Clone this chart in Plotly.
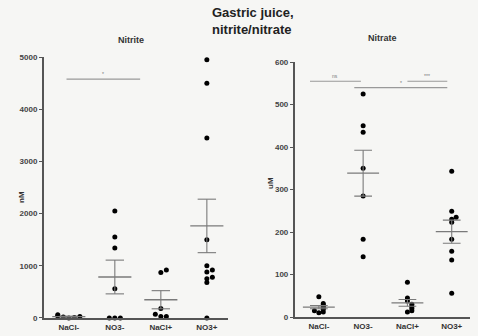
import plotly.graph_objects as go
import numpy as np

categories = ["NaCl-", "NO3-", "NaCl+", "NO3+"]

nitrite_nacl_minus = [0, 10, 20, 30, 40, 60]
nitrite_no3_minus = [2050, 1550, 1340, 560, 0, 0, 0]
nitrite_nacl_plus = [870, 920, 180, 70, 30, 30]
nitrite_no3_plus = [4950, 4500, 3450, 1500, 1000, 920, 880, 780, 750, 680, 0]

nitrate_nacl_minus = [48, 32, 28, 25, 22, 18, 15, 12, 10]
nitrate_no3_minus = [525, 450, 435, 350, 285, 183, 142]
nitrate_nacl_plus = [82, 45, 38, 30, 25, 20, 15, 12]
nitrate_no3_plus = [343, 249, 235, 230, 223, 183, 155, 134, 56]

# significance brackets: (start cat, end cat, level, label)
nitrite_sig = [(-0.05, 1.55, 4580, "*"), (2.1, 2.9, 5050, "P= 0.38")]
nitrate_sig = [(-0.2, 0.95, 555, "ns"), (0.8, 2.9, 540, "*"), (2.0, 2.9, 555, "***")]

nitrite = [nitrite_nacl_minus, nitrite_no3_minus, nitrite_nacl_plus, nitrite_no3_plus]
nitrate = [nitrate_nacl_minus, nitrate_no3_minus, nitrate_nacl_plus, nitrate_no3_plus]

fig = go.Figure()

GRAY = "#7a7a7a"
AX = "#555555"
FONT = "Liberation Sans, Arial"


def swarm(vals, tol, step):
    vals = sorted(vals)
    xs = []
    placed = []
    for v in vals:
        near = [p for p in placed if abs(p - v) < tol]
        k = len(near)
        off = 0 if k == 0 else ((k + 1) // 2) * step * (1 if k % 2 else -1)
        xs.append(off)
        placed.append(v)
    return vals, xs


def add_panel(data, xa, ya, tol, step):
    for i, vals in enumerate(data):
        v, offs = swarm(vals, tol, step)
        fig.add_trace(go.Scatter(x=[i + o for o in offs], y=v, mode="markers",
                                 marker=dict(color="black", size=5),
                                 xaxis=xa, yaxis=ya, showlegend=False, cliponaxis=False))
        m = float(np.mean(vals))
        sem = float(np.std(vals, ddof=1) / np.sqrt(len(vals)))
        fig.add_trace(go.Scatter(x=[i - 0.36, i + 0.36], y=[m, m], mode="lines",
                                 line=dict(color=GRAY, width=1.3), xaxis=xa, yaxis=ya,
                                 showlegend=False, cliponaxis=False))
        fig.add_trace(go.Scatter(x=[i - 0.2, i + 0.2, None, i - 0.2, i + 0.2, None, i, i],
                                 y=[m + sem, m + sem, None, m - sem, m - sem, None, m - sem, m + sem],
                                 mode="lines", line=dict(color=GRAY, width=1.1), xaxis=xa, yaxis=ya,
                                 showlegend=False, cliponaxis=False))


add_panel(nitrite, "x", "y", 60, 0.12)
add_panel(nitrate, "x2", "y2", 6, 0.1)

for (a, b, lvl, lab) in nitrite_sig:
    fig.add_shape(type="line", x0=a, x1=b, y0=lvl, y1=lvl, xref="x", yref="y",
                  line=dict(color="#999999", width=1.2))
    fig.add_annotation(x=(a + b) / 2, y=lvl, xref="x", yref="y", text=lab, showarrow=False,
                       yanchor="bottom", xanchor="center", font=dict(size=5, color="#777777", family=FONT))
for (a, b, lvl, lab) in nitrate_sig:
    fig.add_shape(type="line", x0=a, x1=b, y0=lvl, y1=lvl, xref="x2", yref="y2",
                  line=dict(color="#999999", width=1.2))
    fig.add_annotation(x=(a + b) / 2, y=lvl, xref="x2", yref="y2", text=lab, showarrow=False,
                       yanchor="bottom", xanchor="center", font=dict(size=5, color="#777777", family=FONT))

tickfont = dict(size=8, color="#444444", family=FONT, weight="bold")
common_x = dict(tickmode="array", tickvals=[0, 1, 2, 3], ticktext=categories,
                showline=True, linecolor=AX, linewidth=2, ticks="", showgrid=False,
                zeroline=False, automargin=False,
                tickfont=dict(size=8, color="#333333", family=FONT, weight="bold"))
common_y = dict(showline=True, linecolor=AX, linewidth=2, ticks="outside", ticklen=3, tickcolor=AX,
                showgrid=False, zeroline=False, tickfont=tickfont, automargin=False)

fig.update_layout(
    width=478, height=336,
    margin=dict(l=0, r=0, t=0, b=0, autoexpand=False),
    paper_bgcolor="#f6f6f4", plot_bgcolor="rgba(0,0,0,0)",
    xaxis=dict(domain=[0.092, 0.477], range=[-0.54, 3.46], anchor="y", **common_x),
    yaxis=dict(domain=[0.0536, 0.830], range=[0, 5000], anchor="x",
               tickvals=[0, 1000, 2000, 3000, 4000, 5000], **common_y),
    xaxis2=dict(domain=[0.617, 0.983], range=[-0.54, 3.41], anchor="y2", **common_x),
    yaxis2=dict(domain=[0.0565, 0.815], range=[0, 600], anchor="x2",
                tickvals=[0, 100, 200, 300, 400, 500, 600], **common_y),
)

ann = dict(xref="paper", yref="paper", showarrow=False, xanchor="center", yanchor="middle")
fig.add_annotation(x=253 / 478, y=1 - 21 / 336, text="<b>Gastric juice,<br>nitrite/nitrate</b>",
                   font=dict(size=13, color="#222222", family=FONT), align="left", **ann)
fig.add_annotation(x=131 / 478, y=1 - 40 / 336, text="<b>Nitrite</b>",
                   font=dict(size=9, color="#333333", family=FONT), **ann)
fig.add_annotation(x=382 / 478, y=1 - 38 / 336, text="<b>Nitrate</b>",
                   font=dict(size=9, color="#333333", family=FONT), **ann)
fig.add_annotation(x=21 / 478, y=1 - 197 / 336, text="<b>nM</b>", textangle=-90,
                   font=dict(size=8, color="#333333", family=FONT), **ann)
fig.add_annotation(x=271 / 478, y=1 - 183 / 336, text="<b>uM</b>", textangle=-90,
                   font=dict(size=8, color="#333333", family=FONT), **ann)

fig.write_html("out.html", config={"displayModeBar": False},
               post_script="document.body.style.margin='0';")
